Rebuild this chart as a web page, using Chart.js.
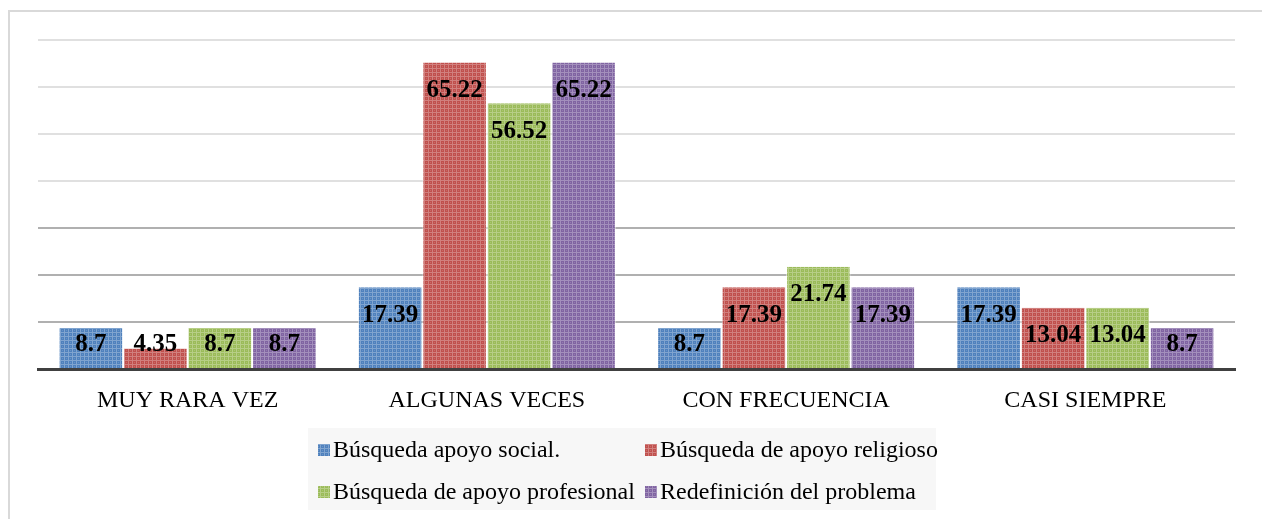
<!DOCTYPE html>
<html>
<head>
<meta charset="utf-8">
<script src="https://cdn.jsdelivr.net/npm/chart.js@4/dist/chart.umd.min.js"></script>
<style>
  html, body { margin: 0; padding: 0; background: #fff; }
  canvas { display: block; }
</style>
</head>
<body>
<canvas id="chart" width="1262" height="519"></canvas>
<script>
const categories = ["MUY RARA VEZ", "ALGUNAS VECES", "CON FRECUENCIA", "CASI SIEMPRE"]
const seriesNames = [
  "Búsqueda apoyo social.",
  "Búsqueda de apoyo religioso",
  "Búsqueda de apoyo profesional",
  "Redefinición del problema"
]
const apoyoSocial = [8.7, 17.39, 8.7, 17.39]
const apoyoReligioso = [4.35, 65.22, 17.39, 13.04]
const apoyoProfesional = [8.7, 56.52, 21.74, 13.04]
const redefinicion = [8.7, 65.22, 17.39, 8.7]
const seriesColors = ["#4f81bd", "#c0504d", "#9bbb59", "#8064a2"]
const yTicks = [0, 10, 20, 30, 40, 50, 60, 70]

const SERIF = "'Liberation Serif', 'Times New Roman', serif"

// small textured fill, like the office "dotted grid" bars
function texture(color) {
  const c = document.createElement("canvas")
  c.width = 4
  c.height = 4
  const g = c.getContext("2d")
  g.fillStyle = color
  g.fillRect(0, 0, 4, 4)
  g.fillStyle = "rgba(255,255,255,0.28)"
  g.fillRect(0, 0, 4, 1)
  g.fillRect(0, 1, 1, 3)
  g.fillStyle = "rgba(255,255,255,0.15)"
  g.fillRect(2, 2, 1, 1)
  return g.createPattern(c, "repeat")
}

const frame = {
  id: "frame",
  beforeDraw(chart) {
    const ctx = chart.ctx
    ctx.save()
    ctx.strokeStyle = "#d9d9d9"
    ctx.lineWidth = 2
    ctx.strokeRect(9, 11, 1300, 600)
    ctx.restore()
  }
}

const barLabels = {
  id: "barLabels",
  afterDatasetsDraw(chart) {
    const ctx = chart.ctx
    ctx.save()
    ctx.font = "bold 25px " + SERIF
    ctx.fillStyle = "#000"
    ctx.textAlign = "center"
    ctx.textBaseline = "middle"
    chart.data.datasets.forEach((ds, i) => {
      chart.getDatasetMeta(i).data.forEach((bar, j) => {
        const y = Math.min(bar.y + 28, bar.base - 23)
        ctx.fillText(String(ds.data[j]), bar.x, y)
      })
    })
    ctx.restore()
  }
}

const boxLegend = {
  id: "boxLegend",
  afterDraw(chart) {
    const ctx = chart.ctx
    ctx.save()
    ctx.fillStyle = "#f7f7f7"
    ctx.fillRect(308, 428, 628, 82)
    ctx.font = "24px " + SERIF
    ctx.textBaseline = "middle"
    const cols = [318, 645]
    const rows = [450, 492]
    chart.data.datasets.forEach((ds, i) => {
      const x = cols[i % 2]
      const y = rows[Math.floor(i / 2)]
      ctx.fillStyle = texture(seriesColors[i])
      ctx.fillRect(x, y - 6, 12, 12)
      ctx.fillStyle = "#000"
      ctx.fillText(ds.label, x + 15, y + 1)
    })
    ctx.restore()
  }
}

const values = [apoyoSocial, apoyoReligioso, apoyoProfesional, redefinicion]

new Chart(document.getElementById("chart").getContext("2d"), {
  type: "bar",
  data: {
    labels: categories,
    datasets: values.map((data, i) => ({
      label: seriesNames[i],
      data: data,
      backgroundColor: texture(seriesColors[i]),
      borderColor: "rgba(255,255,255,0.6)",
      borderWidth: { left: 1, right: 1 },
      borderSkipped: false,
      categoryPercentage: 0.862,
      barPercentage: 1
    }))
  },
  options: {
    responsive: false,
    animation: false,
    layout: { padding: { left: 38, right: 27, top: 40, bottom: 90 } },
    plugins: {
      legend: { display: false },
      tooltip: { enabled: false }
    },
    scales: {
      x: {
        grid: { display: false, drawTicks: false },
        border: { display: true, color: "#404040", width: 3 },
        ticks: {
          color: "#000",
          font: { family: SERIF, size: 24 },
          padding: 17
        },
        afterFit: (scale) => { scale.height = 60 }
      },
      y: {
        min: yTicks[0],
        max: yTicks[yTicks.length - 1],
        afterBuildTicks: (scale) => { scale.ticks = yTicks.map(v => ({ value: v })) },
        ticks: { display: false },
        grid: {
          drawTicks: false,
          lineWidth: 2,
          color: (ctx) => {
            const v = ctx.tick.value
            if (v === 0) return "rgba(0,0,0,0)"
            return v >= 40 ? "#e0e0e0" : "#b0b0b0"
          }
        },
        border: { display: false },
        afterFit: (scale) => { scale.width = 0 }
      }
    }
  },
  plugins: [frame, barLabels, boxLegend]
})
</script>
</body>
</html>
